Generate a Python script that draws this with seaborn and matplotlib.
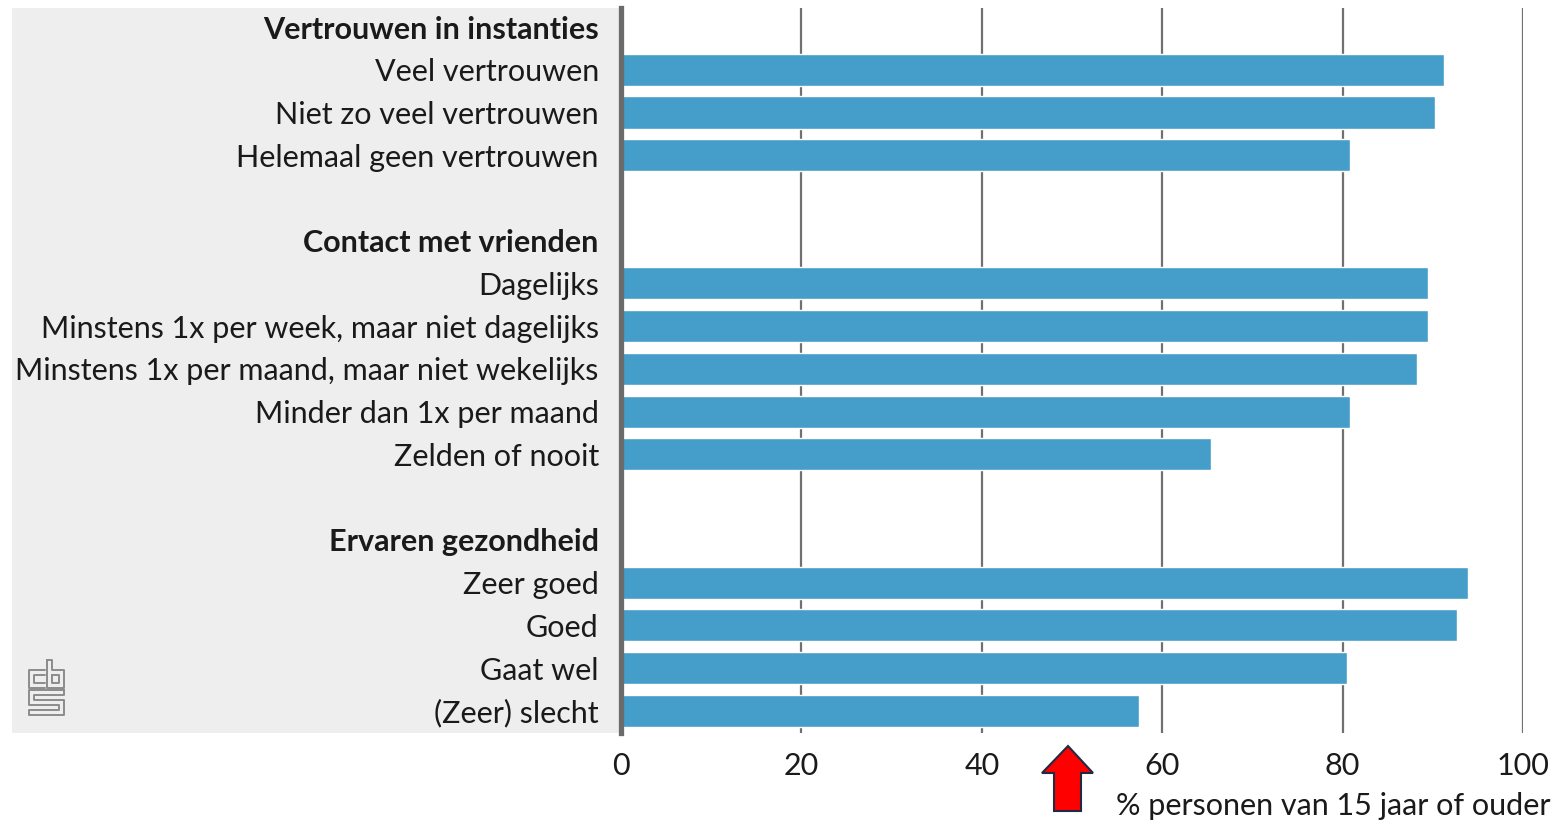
import numpy as np
import pandas as pd
import matplotlib.pyplot as plt
import seaborn as sns
from matplotlib.patches import Rectangle, Polygon
from matplotlib.lines import Line2D

# data
groups = ["Vertrouwen in instanties", "Contact met vrienden", "Ervaren gezondheid"]
trust_labels = ["Veel vertrouwen", "Niet zo veel vertrouwen", "Helemaal geen vertrouwen"]
trust_values = [91.2, 90.2, 80.8]
friends_labels = ["Dagelijks", "Minstens 1x per week, maar niet dagelijks",
                  "Minstens 1x per maand, maar niet wekelijks",
                  "Minder dan 1x per maand", "Zelden of nooit"]
friends_values = [89.5, 89.5, 88.2, 80.8, 65.4]
health_labels = ["Zeer goed", "Goed", "Gaat wel", "(Zeer) slecht"]
health_values = [93.9, 92.7, 80.5, 57.4]
xticks = [0, 20, 40, 60, 80, 100]
xlabel = "% personen van 15 jaar of ouder"

BAR = "#459dc9"
GRID = "#707070"
TXT = "#1a1a1a"
FS = 22
W, H = 1558, 824

sns.set_theme(style="white")
plt.rcParams["font.family"] = ["Lato", "DejaVu Sans"]

df = pd.DataFrame({
    "label": trust_labels + friends_labels + health_labels,
    "pct": trust_values + friends_values + health_values,
})
order = ([groups[0]] + trust_labels + [""] + [groups[1]] + friends_labels
         + [" "] + [groups[2]] + health_labels)

fig = plt.figure(figsize=(W / 100, H / 100), dpi=100)
fig.patch.set_facecolor("white")


def fx(x, y):
    return (x / W, 1 - y / H)


# grey panel behind the labels
x0, y0 = fx(12, 733)
x1, y1 = fx(621, 8)
fig.add_artist(Rectangle((x0, y0), x1 - x0, y1 - y0, transform=fig.transFigure,
                         facecolor="#eeeeee", edgecolor="none", zorder=0))

ax = fig.add_axes([621 / W, 1 - 733 / H, (1523 - 621) / W, (733 - 8) / H])
ax.patch.set_alpha(0)
sns.barplot(data=df, x="pct", y="label", order=order, color=BAR,
            saturation=1, width=0.75, ax=ax)

ax.set_xlim(0, 100)
ax.set_ylim(16.52, -0.445)
ax.set_xticks(xticks)
ax.set_xticklabels([str(t) for t in xticks], fontsize=FS, color=TXT)
ax.xaxis.grid(True, color=GRID, lw=1.6)
ax.set_axisbelow(True)
ax.tick_params(axis="x", length=10, width=1.6, color=GRID, pad=4)
ax.tick_params(axis="y", length=0, pad=16, labelsize=FS, labelcolor=TXT)
for lab in ax.get_yticklabels():
    if lab.get_text() in groups:
        lab.set_fontweight("bold")
ax.set_xlabel("")
ax.set_ylabel("")
for s in ["top", "right", "bottom"]:
    ax.spines[s].set_visible(False)
ax.spines["left"].set_color("#6b6b6b")
ax.spines["left"].set_linewidth(3.8)
ax.spines["left"].set_zorder(5)

fig.text(1550 / W, 1 - 806 / H, xlabel, ha="right", va="center",
         fontsize=FS, color=TXT)

# red arrow marker under the axis
arrow = [(1068, 746), (1093, 773), (1081, 773), (1081, 811),
         (1054, 811), (1054, 773), (1042, 773)]
fig.add_artist(Polygon([fx(*p) for p in arrow], closed=True, transform=fig.transFigure,
                       facecolor="#ff0000", edgecolor="#1f2a44", lw=1.5, zorder=6))

# small cbs logo
logo = [
    [(45, 670), (29, 670), (29, 688), (45, 688)],
    [(45, 675), (34, 675), (34, 683), (45, 683)],
    [(47, 660), (47, 688), (64, 688), (64, 670), (52, 670), (52, 660), (47, 660)],
    [(52, 675), (59, 675), (59, 683), (52, 683), (52, 675)],
    [(64, 690), (29, 690), (29, 705), (59, 705), (59, 710), (29, 710), (29, 715),
     (64, 715), (64, 700), (34, 700), (34, 695), (64, 695), (64, 690)],
]
for path in logo:
    pts = np.array([fx(*p) for p in path])
    fig.add_artist(Line2D(pts[:, 0], pts[:, 1], transform=fig.transFigure,
                          color="#8c8c8c", lw=1.4, zorder=1))

fig.savefig("out.png", dpi=100)
